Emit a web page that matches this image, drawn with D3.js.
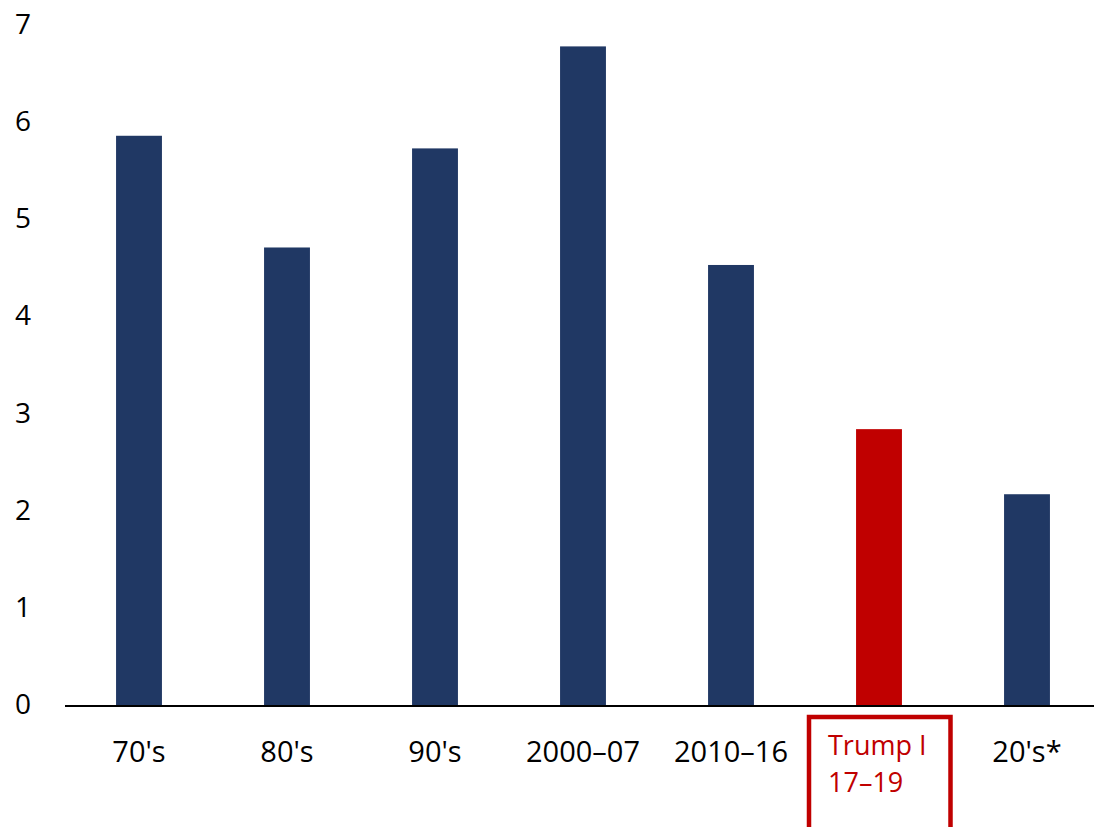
<!DOCTYPE html>
<html>
<head>
<meta charset="utf-8">
<script src="https://cdn.jsdelivr.net/npm/d3@7"></script>
<style>
  html, body { margin: 0; padding: 0; background: #fff; }
  svg { display: block; }
  text { font-family: "Open Sans", "Noto Sans", sans-serif; }
</style>
</head>
<body>
<svg id="chart" width="1094" height="827"></svg>
<script>
const categories = ["70's", "80's", "90's", "2000–07", "2010–16", "Trump I|17–19", "20's*"];
const values = [5.87, 4.72, 5.74, 6.79, 4.54, 2.85, 2.18];
const highlight = [false, false, false, false, false, true, false];
const yTicks = [0, 1, 2, 3, 4, 5, 6, 7];

const navy = "#203864", red = "#C00000";
const svg = d3.select("#chart");

const x = d3.scaleBand().domain(categories).range([65, 1101]).paddingInner(0.69).paddingOuter(0.345);
const y = d3.scaleLinear().domain([0, 7]).range([706, 26]);

// bars
svg.append("g").selectAll("rect").data(values).join("rect")
  .attr("x", (d, i) => x(categories[i]))
  .attr("width", x.bandwidth())
  .attr("y", d => y(d))
  .attr("height", d => y(0) - y(d))
  .attr("fill", (d, i) => highlight[i] ? red : navy);

// y tick labels
svg.append("g").selectAll("text").data(yTicks).join("text")
  .attr("x", 31).attr("y", d => y(d) - 3)
  .attr("text-anchor", "end").attr("dominant-baseline", "central")
  .attr("font-size", 28).attr("fill", "#000")
  .text(d => d);

// x axis line
svg.append("line").attr("x1", 65).attr("x2", 1094)
  .attr("y1", y(0)).attr("y2", y(0))
  .attr("stroke", "#000").attr("stroke-width", 2);

// category labels
categories.forEach((c, i) => {
  const cx = x(c) + x.bandwidth() / 2;
  if (highlight[i]) {
    const lines = c.split("|");
    svg.append("rect").attr("x", cx - 70).attr("y", 717).attr("width", 141.5).attr("height", 130)
      .attr("fill", "none").attr("stroke", red).attr("stroke-width", 4.5);
    const t = svg.append("text").attr("text-anchor", "start").attr("font-size", 27).attr("fill", red);
    lines.forEach((l, j) => {
      t.append("tspan").attr("x", cx - 51).attr("y", 755 + j * 37).text(l);
    });
  } else {
    svg.append("text").attr("x", cx).attr("y", 762)
      .attr("text-anchor", "middle").attr("font-size", 29).attr("fill", "#000").text(c);
  }
});
</script>
</body>
</html>
